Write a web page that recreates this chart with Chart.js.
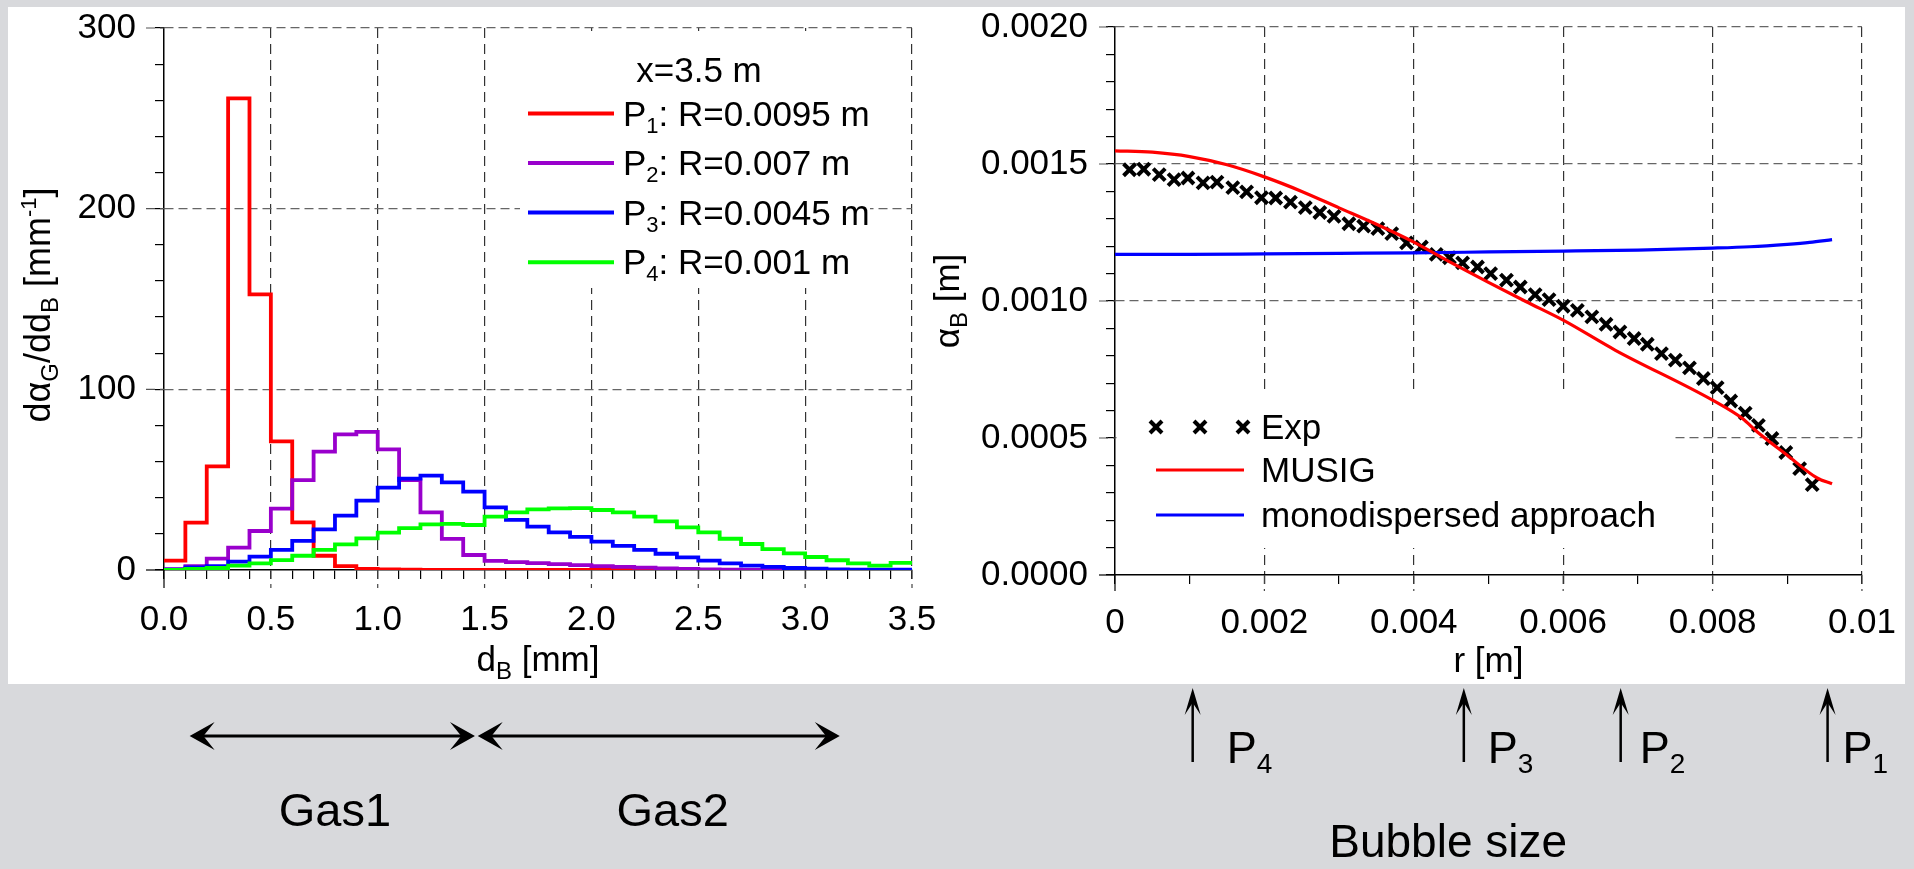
<!DOCTYPE html>
<html><head><meta charset="utf-8">
<script src="https://cdn.jsdelivr.net/npm/chart.js@4.4.1/dist/chart.umd.min.js"></script>
<style>
html,body{margin:0;padding:0;background:#d8d9dc;width:1914px;height:869px;overflow:hidden;}
#panel{position:absolute;left:8px;top:7px;width:1897px;height:677px;background:#fff;}
#w1{position:absolute;left:0;top:0;width:957px;height:869px;}
#w2{position:absolute;left:900px;top:0;width:1014px;height:869px;}
</style></head><body>
<div id="panel"></div>
<div id="w1"><canvas id="c1" width="957" height="869"></canvas></div>
<div id="w2"><canvas id="c2" width="1014" height="869"></canvas></div>
<script>
// ---------------- LEFT PANEL DATA (bubble size distributions, x = 3.5 m) ----------------
const binEdges = [0.0,0.1,0.2,0.3,0.4,0.5,0.6,0.7,0.8,0.9,1.0,1.1,1.2,1.3,1.4,1.5,1.6,1.7,1.8,1.9,2.0,2.1,2.2,2.3,2.4,2.5,2.6,2.7,2.8,2.9,3.0,3.1,3.2,3.3,3.4,3.5];
const distP1 = [5.2,26.2,57.4,261,152.6,71.2,26.4,7.9,2.2,0.6,0.3,0.2,0.1,0.1,0.1,0.1,0,0,0,0,0,0,0,0,0,0,0,0,0,0,0,0,0,0,0];
const distP2 = [0.5,2.2,6.3,12.4,21.6,34.0,49.8,65.5,75.1,76.5,66.8,49.8,31.9,17.2,8.3,5.0,4.4,3.8,3.2,2.7,2.2,1.7,1.3,0.9,0.6,0.4,0.2,0.1,0.1,0.1,0,0,0,0,0];
const distP3 = [0.2,1.5,2.2,4.6,7.4,11.1,16.1,22.5,30.1,38.4,45.6,50.6,52.2,48.5,43.4,34.7,27.7,24.0,20.8,18.3,15.7,13.3,11.1,9.0,7.0,5.2,3.7,2.4,1.7,1.1,0.7,0.4,0.2,0.2,0.2];
const distP4 = [0,0.6,1.1,2.4,3.7,5.5,7.9,11.1,14.2,17.5,20.7,23.2,25.3,25.5,24.9,29.5,31.9,33.6,34.1,34.3,33.2,31.9,29.5,26.9,23.6,20.8,17.3,14.4,11.6,9.2,7.2,5.4,3.7,2.4,3.9];
const distNames = [['P','1',': R=0.0095 m'],['P','2',': R=0.007 m'],['P','3',': R=0.0045 m'],['P','4',': R=0.001 m']];
const distColors = ['#ff0000','#9900cc','#0000ff','#00ff00'];
const leftLegendTitle = 'x=3.5 m';
const gasRanges = [[0.12,1.455],[1.468,3.162]];
const gasLabels = ['Gas1','Gas2'];
const gasLabelX = [0.80,2.38];

// ---------------- RIGHT PANEL DATA ----------------
const expR = [0.000195,0.000385,0.000592,0.000791,0.000976,0.001179,0.001365,0.001577,0.001762,0.001961,0.002151,0.002349,0.002548,0.002742,0.002932,0.003131,0.003329,0.003519,0.003705,0.003903,0.004102,0.004301,0.004477,0.004654,0.004853,0.005029,0.005241,0.005426,0.005625,0.005811,0.006000,0.006190,0.006384,0.006574,0.006760,0.006950,0.007126,0.007316,0.007502,0.007691,0.007877,0.008062,0.008243,0.008437,0.008614,0.008795,0.008981,0.009166,0.009334];
const expVal = [0.001479,0.001481,0.001461,0.001443,0.001449,0.001431,0.001434,0.001414,0.001398,0.001377,0.001376,0.001361,0.001341,0.001323,0.001309,0.001282,0.001273,0.001264,0.001246,0.001212,0.001197,0.001170,0.001158,0.001139,0.001124,0.001100,0.001076,0.001051,0.001023,0.001005,0.000981,0.000966,0.000942,0.000915,0.000887,0.000863,0.000842,0.000808,0.000784,0.000756,0.000717,0.000684,0.000635,0.000591,0.000546,0.000498,0.000447,0.000388,0.000330];
const musigR = [0,0.0005,0.001,0.0015,0.002,0.0025,0.003,0.0035,0.004,0.0045,0.005,0.0055,0.006,0.0067,0.008,0.0084,0.0086,0.009,0.0094,0.0096];
const musigVal = [0.001548,0.001543,0.001527,0.001497,0.001453,0.001400,0.001340,0.001280,0.001215,0.001140,0.001068,0.000998,0.000930,0.000820,0.000638,0.000571,0.000522,0.000437,0.000354,0.000333];
const monoR = [0,0.001,0.002,0.003,0.004,0.005,0.006,0.007,0.008,0.0085,0.009,0.0093,0.0096];
const monoVal = [0.001170,0.001170,0.001172,0.001174,0.001176,0.001179,0.001182,0.001186,0.001193,0.001198,0.001207,0.001214,0.001224];
const rightNames = ['Exp','MUSIG','monodispersed approach'];
const probeR = [0.00104,0.00467,0.00677,0.00954];
const probeSub = ['4','3','2','1'];
const probeLabelOffset = [34,24,19,15];
const bottomTitle = 'Bubble size';
const bottomTitleR = 0.00446;

// ---------------- helpers ----------------
const FONT = '"Liberation Sans", Arial, Helvetica, sans-serif';
Chart.defaults.font.family = FONT;
Chart.defaults.color = '#000';
const FS = 35;
function isMult(v,m){const q=v/m;return Math.abs(q-Math.round(q))<1e-6;}
function rich(ctx,x,y,parts,align){
  let w=0;
  for(const p of parts){ctx.font=p[1]+'px '+FONT;w+=ctx.measureText(p[0]).width;}
  let cx = align==='center'? x-w/2 : (align==='right'? x-w : x);
  ctx.textAlign='left';ctx.textBaseline='alphabetic';ctx.fillStyle='#000';
  for(const p of parts){ctx.font=p[1]+'px '+FONT;ctx.fillText(p[0],cx,y+(p[2]||0));cx+=ctx.measureText(p[0]).width;}
}
function head(ctx,x,y,ang,L,W){
  ctx.save();ctx.translate(x,y);ctx.rotate(ang);ctx.beginPath();
  ctx.moveTo(0,0);ctx.lineTo(-L,-W);ctx.lineTo(-L*0.55,0);ctx.lineTo(-L,W);ctx.closePath();ctx.fill();ctx.restore();
}
function seg(ctx,x1,y1,x2,y2){ctx.beginPath();ctx.moveTo(x1,y1);ctx.lineTo(x2,y2);ctx.stroke();}
function majorExt(chart, xMajor, yMajor, len){
  const ctx=chart.ctx, a=chart.chartArea, xs=chart.scales.x, ys=chart.scales.y;
  ctx.save();ctx.lineWidth=1.2;
  for(const t of xs.ticks){ if(!isMult(t.value,xMajor)) continue; const px=xs.getPixelForValue(t.value);
    if(Math.abs(t.value)<1e-12){ctx.setLineDash([]);ctx.strokeStyle='#000';} else {ctx.setLineDash([9,5]);ctx.strokeStyle='#444';}
    seg(ctx,px,a.bottom,px,a.bottom+len);}
  for(const t of ys.ticks){ if(!isMult(t.value,yMajor)) continue; const py=ys.getPixelForValue(t.value);
    if(Math.abs(t.value)<1e-12){ctx.setLineDash([]);ctx.strokeStyle='#000';} else {ctx.setLineDash([9,5]);ctx.strokeStyle='#555';}
    seg(ctx,a.left-len,py,a.left,py);}
  ctx.restore();
}
function axisOpts(min,max,step,major,fmt,pad,gridColor,dash,fitKey,fitVal,lh){
  return {
    type:'linear',min:min,max:max,
    afterFit:(s)=>{s[fitKey]=fitVal;},
    ticks:{stepSize:step,autoSkip:false,maxRotation:0,minRotation:0,padding:pad,color:'#000',
      font:{size:FS,family:FONT,lineHeight:lh},callback:(v)=>isMult(v,major)?fmt(v):''},
    grid:{drawOnChartArea:true,drawTicks:true,tickLength:9,lineWidth:1.2,tickWidth:1.2,tickColor:'#000',
      color:(c)=>(c.tick&&isMult(c.tick.value,major)&&Math.abs(c.tick.value)>1e-12)?gridColor:'rgba(0,0,0,0)'},
    border:{display:true,color:'#000',width:1.5,dash:dash}
  };
}

// ---------------- LEFT CHART ----------------
function stepPoints(vals){return binEdges.map((x,i)=>({x:x,y:vals[Math.min(i,vals.length-1)]}));}
const distSeries=[distP1,distP2,distP3,distP4];
const leftDecor={
  id:'leftDecor',
  afterDraw(chart){
    const ctx=chart.ctx,a=chart.chartArea,xs=chart.scales.x,ys=chart.scales.y;
    majorExt(chart,0.5,100,18);
    ctx.save();
    ctx.fillStyle='#fff';ctx.fillRect(520,a.top+3,350,288-a.top-3);
    ctx.font=FS+'px '+FONT;ctx.fillStyle='#000';ctx.textAlign='center';ctx.textBaseline='alphabetic';
    ctx.fillText(leftLegendTitle,699,82);
    const rows=[113.5,163,212.6,262.3];
    for(let i=0;i<4;i++){
      ctx.strokeStyle=distColors[i];ctx.lineWidth=4;ctx.setLineDash([]);
      seg(ctx,528,rows[i],614,rows[i]);
      rich(ctx,623,rows[i]+12,[[distNames[i][0],FS],[distNames[i][1],22,7],[distNames[i][2],FS]],'left');
    }
    ctx.save();ctx.translate(50,(a.top+a.bottom)/2+6);ctx.rotate(-Math.PI/2);
    rich(ctx,0,0,[['dα',36],['G',24,8],['/dd',36],['B',24,8],[' [mm',36],['-1',22,-14],[']',36]],'center');
    ctx.restore();
    rich(ctx,(a.left+a.right)/2,671,[['d',FS],['B',24,8],[' [mm]',FS]],'center');
    ctx.fillStyle='#000';ctx.strokeStyle='#000';ctx.lineWidth=3;
    for(let g=0;g<2;g++){
      const x1=xs.getPixelForValue(gasRanges[g][0]),x2=xs.getPixelForValue(gasRanges[g][1]),y=736;
      seg(ctx,x1+10,y,x2-10,y);
      head(ctx,x1,y,Math.PI,25,14);head(ctx,x2,y,0,25,14);
      ctx.font='47px '+FONT;ctx.textAlign='center';ctx.textBaseline='alphabetic';
      ctx.fillText(gasLabels[g],xs.getPixelForValue(gasLabelX[g]),826);
    }
    ctx.restore();
  }
};
new Chart(document.getElementById('c1'),{
  type:'line',
  data:{datasets:distSeries.map((s,i)=>({label:distNames[i].join(''),data:stepPoints(s),borderColor:distColors[i],
    borderWidth:3.8,stepped:true,pointRadius:0,fill:false,order:4-i}))},
  options:{
    responsive:false,animation:false,events:[],
    layout:{padding:{left:14,right:45,top:28,bottom:199}},
    plugins:{legend:{display:false},tooltip:{enabled:false}},
    scales:{
      x:axisOpts(0,3.5,0.1,0.5,(v)=>v.toFixed(1),20,'#333',[10,6],'height',100,1.2),
      y:axisOpts(0,300,20,100,(v)=>String(Math.round(v)),19,'#666',[9,5],'width',150,0.4)
    }
  },
  plugins:[leftDecor]
});

// ---------------- RIGHT CHART ----------------
const rightDecor={
  id:'rightDecor',
  afterDraw(chart){
    const ctx=chart.ctx,a=chart.chartArea,xs=chart.scales.x,ys=chart.scales.y;
    majorExt(chart,0.002,0.0005,16);
    ctx.save();
    ctx.fillStyle='#fff';ctx.fillRect(a.left+1.5,392,772-a.left-1.5,156);
    const lx1=256,lx2=344,tx=361;
    ctx.strokeStyle='#000';ctx.lineWidth=4;
    for(const cx of [256,300,343]){seg(ctx,cx-6,427-6,cx+6,427+6);seg(ctx,cx-6,427+6,cx+6,427-6);}
    ctx.lineWidth=3;ctx.strokeStyle='#ff0000';seg(ctx,lx1,470,lx2,470);
    ctx.strokeStyle='#0000ff';seg(ctx,lx1,515,lx2,515);
    ctx.font=FS+'px '+FONT;ctx.fillStyle='#000';ctx.textAlign='left';ctx.textBaseline='alphabetic';
    ctx.fillText(rightNames[0],tx,439);ctx.fillText(rightNames[1],tx,482);ctx.fillText(rightNames[2],tx,527);
    ctx.save();ctx.translate(59,(a.top+a.bottom)/2);ctx.rotate(-Math.PI/2);
    rich(ctx,0,0,[['α',FS],['B',24,8],[' [m]',FS]],'center');ctx.restore();
    rich(ctx,(a.left+a.right)/2,672,[['r [m]',FS]],'center');
    ctx.fillStyle='#000';ctx.strokeStyle='#000';ctx.lineWidth=2.5;
    for(let i=0;i<probeR.length;i++){
      const px=xs.getPixelForValue(probeR[i]);
      seg(ctx,px,700,px,762);head(ctx,px,688,-Math.PI/2,27,8);
      rich(ctx,px+probeLabelOffset[i],763,[['P',45],[probeSub[i],28,10]],'left');
    }
    ctx.font='46px '+FONT;ctx.textAlign='center';ctx.textBaseline='alphabetic';
    ctx.fillText(bottomTitle,xs.getPixelForValue(bottomTitleR),857);
    ctx.restore();
  }
};
new Chart(document.getElementById('c2'),{
  type:'line',
  data:{datasets:[
    {label:rightNames[0],data:expR.map((r,i)=>({x:r,y:expVal[i]})),showLine:false,pointStyle:'crossRot',
     pointRadius:8.5,pointBorderWidth:4,borderColor:'#000',backgroundColor:'#000',order:3},
    {label:rightNames[1],data:musigR.map((r,i)=>({x:r,y:musigVal[i]})),borderColor:'#ff0000',borderWidth:3.2,
     pointRadius:0,cubicInterpolationMode:'monotone',fill:false,order:1},
    {label:rightNames[2],data:monoR.map((r,i)=>({x:r,y:monoVal[i]})),borderColor:'#0000ff',borderWidth:3.2,
     pointRadius:0,cubicInterpolationMode:'monotone',fill:false,order:2}
  ]},
  options:{
    responsive:false,animation:false,events:[],
    layout:{padding:{left:65,right:44,top:27,bottom:194}},
    plugins:{legend:{display:false},tooltip:{enabled:false}},
    scales:{
      x:axisOpts(0,0.01,0.001,0.002,(v)=>Math.abs(v)<1e-12?'0':String(parseFloat(v.toFixed(4))),18,'#333',[10,6],'height',100,1.2),
      y:axisOpts(0,0.002,0.0001,0.0005,(v)=>v.toFixed(4),18,'#666',[9,5],'width',150,0.4)
    }
  },
  plugins:[rightDecor]
});
</script>
</body></html>
